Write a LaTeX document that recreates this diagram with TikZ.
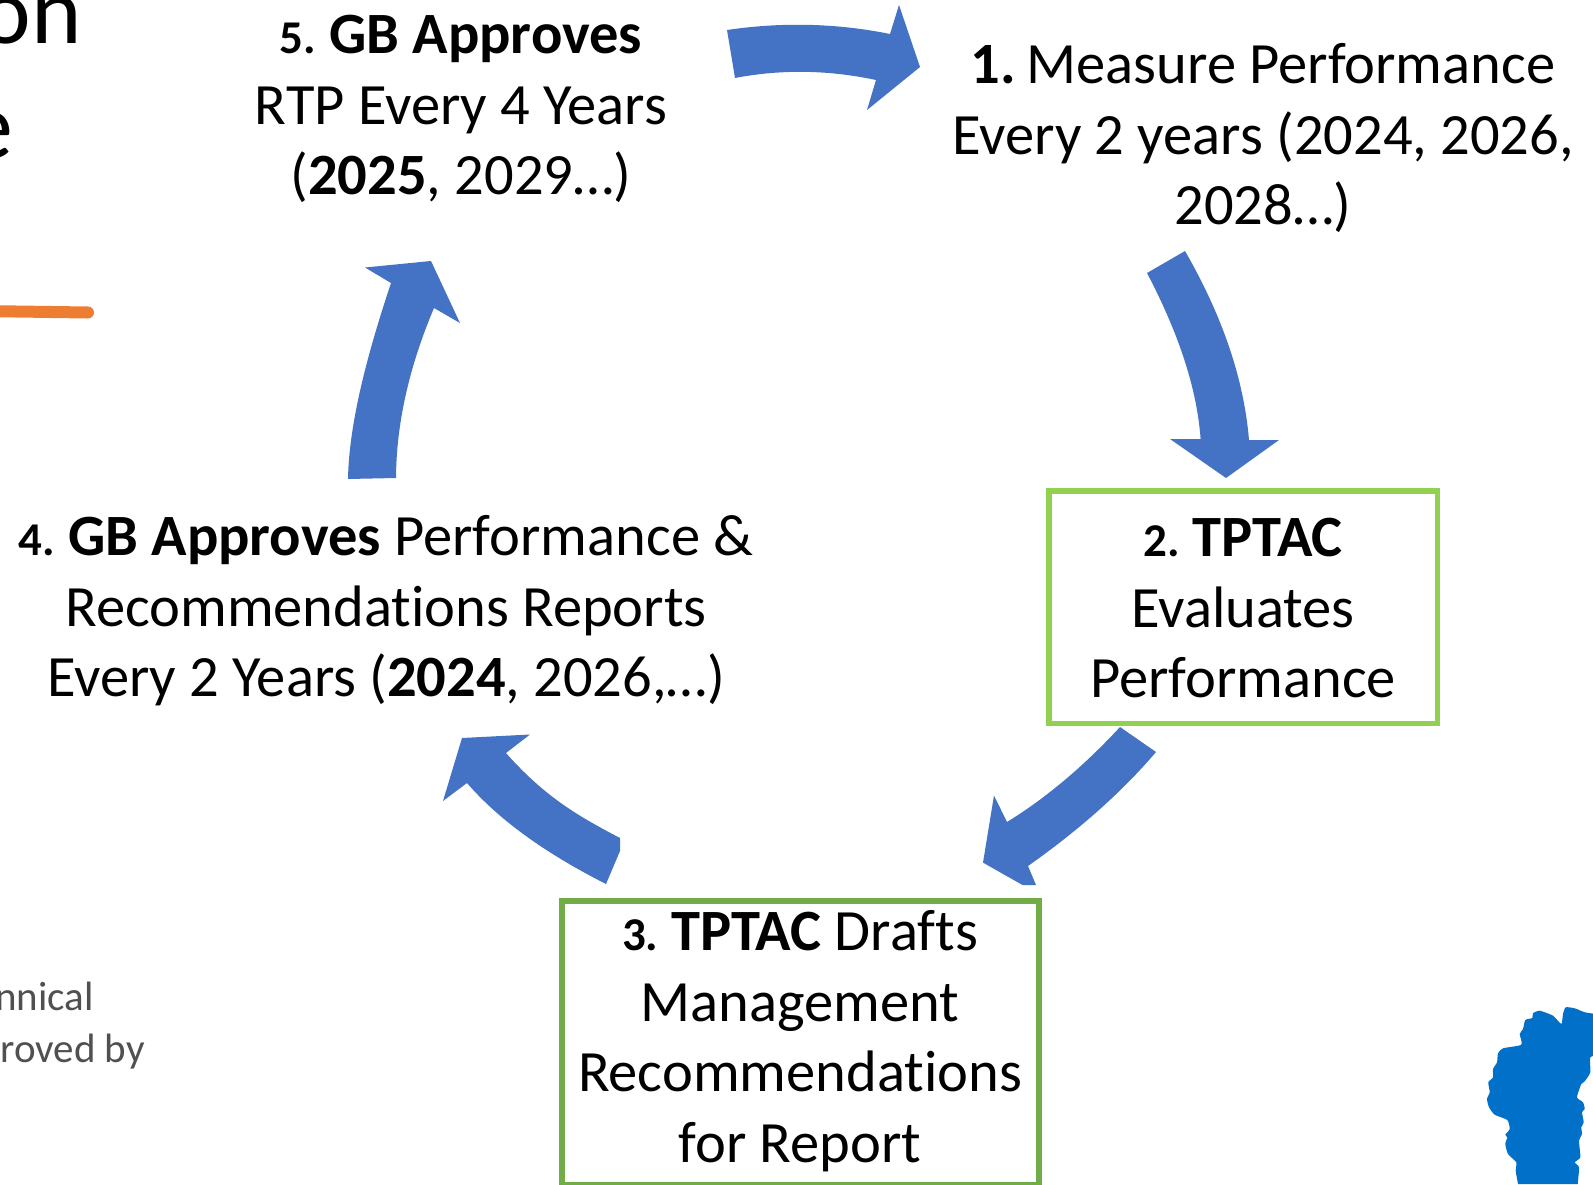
\documentclass[tikz,border=0pt]{standalone}
\usepackage{fontspec}
\setmainfont{Carlito}[Ligatures=CommonOff]
\definecolor{arrowblue}{HTML}{4472C4}
\definecolor{boxgreenA}{HTML}{92D050}
\definecolor{boxgreenB}{HTML}{70AD47}
\definecolor{lakeblue}{HTML}{0070C9}
\definecolor{orangeline}{HTML}{ED7D31}
\definecolor{greytext}{HTML}{505050}
\newcommand{\num}[1]{{\fontsize{47}{70.5}\selectfont\textbf{#1}\kern-1pt}}
\tikzset{
  lbl/.style={align=center,inner sep=0pt,font=\fontsize{58.5}{70.5}\selectfont,text=black},
  bigtxt/.style={anchor=base east,inner sep=0pt,font=\fontsize{96}{110}\selectfont,text=black},
  greytxt/.style={anchor=base east,inner sep=0pt,font=\fontsize{41}{52}\selectfont,text=greytext},
  blockarrow/.style={fill=arrowblue,draw=none},
  greenbox/.style={draw=#1,line width=5.5pt,fill=none,line join=miter}
}
\begin{document}
\begin{tikzpicture}[x=1pt,y=-1pt]
\useasboundingbox (0,0) rectangle (1593,1184);
\clip (0,0) rectangle (1593,1184);
\fill[white] (0,0) rectangle (1593,1184);
% clipped slide text
\node[bigtxt] (ton) at (82,43) {on};
\node[bigtxt] (te) at (13,158) {e};
\draw[orangeline,line width=12pt,line cap=round] (-20,311) -- (88,312.5);
\node[greytxt] (tg1) at (94,1010) {nnical};
\node[greytxt] (tg2) at (145,1062) {roved by};
% lake
\fill[lakeblue] plot[smooth,tension=0.35] coordinates {
(1518,1184)(1515.7,1170.7)(1516.3,1162.3)(1508,1154)(1505.3,1144)(1507.3,1137.3)(1505.3,1134.7)(1509.7,1129)(1507.3,1120)(1494.7,1114.7)(1489,1107.3)(1487,1099)(1489.7,1092.3)(1488.3,1082.3)(1493,1077.3)(1493,1069)(1497,1062.3)(1498,1053.3)(1503,1048.3)(1521.3,1044.7)(1519.7,1034)(1523,1029)(1525.3,1020)(1532.3,1018)(1533,1013.3)(1539.7,1010.7)(1553,1015.7)(1561.3,1024)(1563,1014)(1565.7,1007.3)(1574.7,1008.3)(1584.7,1012.3)(1600,1017)(1600,1052)(1590.3,1057.3)(1590.3,1072.3)(1584.7,1081.3)(1581.3,1084)(1577,1097.3)(1583,1102.3)(1584.7,1109)(1582,1112.3)(1583.7,1122.3)(1581.3,1127.3)(1582,1134)(1579,1140.7)(1580.3,1157.3)(1574.7,1162.3)(1579,1167.3)(1577.7,1184)};
% boxes
\draw[greenbox=boxgreenA] (1049,491) rectangle (1437.5,723.5);
\draw[greenbox=boxgreenB] (562,901) rectangle (1039,1185);
% block arrows
\fill[blockarrow] (727,30) .. controls (781,22) and (836,23) .. (890,34) -- (899,5) -- (920,67) -- (867,110) -- (876,80) .. controls (829,70) and (782,69) .. (735,78) -- cycle;
\fill[blockarrow] (1185,251) .. controls (1223,317) and (1244,380) .. (1249,440) -- (1279,440) -- (1226,478) -- (1170,439) -- (1200.6,439) .. controls (1197,389) and (1179,334) .. (1147,273) -- cycle;
\fill[blockarrow] (1120,727) .. controls (1084,766) and (1046,798) .. (1007,822) -- (994,795.5) -- (983,862.6) -- (1022.5,885) -- (1036,885) -- (1028,866) .. controls (1079,830) and (1122,792) .. (1156,752) -- cycle;
\fill[blockarrow] (620,838) .. controls (578,816) and (545,797) .. (506,753) -- (530,734.5) -- (462,738) -- (443,801) -- (467,783) .. controls (499,820) and (545,853) .. (606,884) -- (620,851) -- cycle;
\fill[blockarrow] (348,479) .. controls (349,425) and (366,358) .. (391,283) -- (365,267.5) -- (431,261) -- (460,323) -- (434,308) .. controls (409,367) and (396.3,424) .. (396,478) -- cycle;
% labels
\node[lbl] (n1) at (1263,138) {\textbf{1.}\kern-7pt{} Measure Performance\\Every 2 years (2024, 2026,\\2028…)};
\node[lbl] (n2) at (1243,608.5) {\num{2. }\textbf{TPTAC}\\Evaluates\\Performance};
\node[lbl] (n3) at (800,1041) {\num{3. }\textbf{TPTAC} Drafts\\Management\\Recommendations\\for Report};
\node[lbl] (n4) at (386,611) {\num{4. }\textbf{GB Approves} Performance \&\\Recommendations Reports\\Every 2 Years (\textbf{2024}, 2026,…)};
\node[lbl] (n5) at (461,109) {\num{5. }\textbf{GB Approves}\\RTP Every 4 Years\\(\textbf{2025}, 2029…)};
\end{tikzpicture}
\end{document}
